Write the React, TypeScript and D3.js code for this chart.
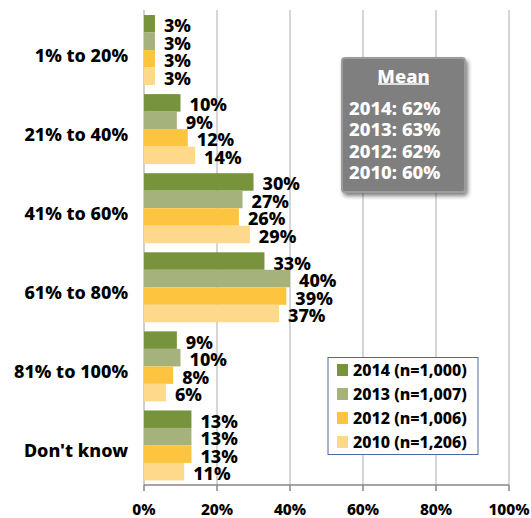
import React from "react";
import * as d3 from "d3";

// categories (top to bottom) and the four survey years
const categories = ["1% to 20%", "21% to 40%", "41% to 60%", "61% to 80%", "81% to 100%", "Don't know"];
const seriesNames = ["2014 (n=1,000)", "2013 (n=1,007)", "2012 (n=1,006)", "2010 (n=1,206)"];
const seriesColors = ["#77933C", "#A6B27B", "#FCC43F", "#FED98B"];

const values2014 = [3, 10, 30, 33, 9, 13];
const values2013 = [3, 9, 27, 40, 10, 13];
const values2012 = [3, 12, 26, 39, 8, 13];
const values2010 = [3, 14, 29, 37, 6, 11];
const allValues = [values2014, values2013, values2012, values2010];

const xTicks = [0, 20, 40, 60, 80, 100];

const meanYears = ["2014", "2013", "2012", "2010"];
const meanValues = [62, 63, 62, 60];

const W = 531, H = 518;
const font = "'Noto Sans', 'Open Sans', sans-serif";

export default function App() {
  const x = d3.scaleLinear().domain([0, 100]).range([144, 509]);
  const y = d3.scaleBand<string>().domain(categories).range([10.5, 485])
    .paddingInner(0.115).paddingOuter(0.0575);
  const y1 = d3.scaleBand<number>().domain(d3.range(seriesNames.length)).range([0, y.bandwidth()]);

  return (
    <svg width={W} height={H} style={{ position: "absolute", left: 0, top: 0, background: "#fff" }}
      fontFamily={font} fontWeight={800}>
      <defs>
        <filter id="shadow" x="-20%" y="-20%" width="140%" height="140%">
          <feGaussianBlur in="SourceAlpha" stdDeviation="2" />
          <feOffset dx="2" dy="3" result="b" />
          <feComponentTransfer><feFuncA type="linear" slope="0.5" /></feComponentTransfer>
          <feMerge><feMergeNode /><feMergeNode in="SourceGraphic" /></feMerge>
        </filter>
      </defs>

      {/* gridlines */}
      {xTicks.slice(1).map(t => (
        <line key={t} x1={x(t)} x2={x(t)} y1={10} y2={485} stroke="#C8C8C8" strokeWidth={1.5} />
      ))}
      <line x1={x(0)} x2={x(0)} y1={10} y2={485} stroke="#BFBFBF" strokeWidth={1.5} />

      {/* bars */}
      {categories.map((c, ci) => (
        <g key={c} transform={`translate(0,${y(c)})`}>
          {allValues.map((vals, si) => (
            <g key={si}>
              <rect x={x(0)} y={y1(si)} width={x(vals[ci]) - x(0)} height={y1.bandwidth()}
                fill={seriesColors[si]} />
              <text x={x(vals[ci]) + 9} y={(y1(si) as number) + y1.bandwidth() / 2 + 1.5}
                dominantBaseline="central" fontSize={18} fill="#000">{vals[ci]}%</text>
            </g>
          ))}
        </g>
      ))}

      {/* category labels */}
      {categories.map(c => (
        <text key={c} x={128} y={(y(c) as number) + y.bandwidth() / 2 + 5} textAnchor="end"
          dominantBaseline="central" fontSize={18} fill="#000">{c}</text>
      ))}

      {/* x axis */}
      <line x1={x(0)} x2={x(100)} y1={485} y2={485} stroke="#868686" strokeWidth={1.5} />
      {xTicks.map(t => (
        <g key={t}>
          <line x1={x(t)} x2={x(t)} y1={485} y2={491} stroke="#868686" strokeWidth={1.5} />
          <text x={x(t)} y={509} textAnchor="middle" dominantBaseline="central" fontSize={15.5}
            fill="#000">{t}%</text>
        </g>
      ))}

      {/* mean box */}
      <g filter="url(#shadow)">
        <rect x={342} y={58} width={123} height={134} rx={3} fill="#7F7F7F" stroke="#9C9C9C" strokeWidth={2} />
      </g>
      <text x={403.5} y={75} textAnchor="middle" dominantBaseline="central" fontSize={18.5} fill="#fff">Mean</text>
      <line x1={378} x2={429} y1={84} y2={84} stroke="#fff" strokeWidth={1.5} />
      {meanYears.map((yr, i) => (
        <text key={yr} x={349} y={107 + i * 21.5} dominantBaseline="central" fontSize={18.5} fill="#fff">
          {yr}: {meanValues[i]}%
        </text>
      ))}

      {/* legend */}
      <rect x={328} y={357.5} width={150} height={97} fill="#fff" stroke="#4A6A9A" strokeWidth={1} />
      {seriesNames.map((s, i) => (
        <g key={s} transform={`translate(337,${370 + i * 24})`}>
          <rect x={0} y={-6} width={11} height={12} fill={seriesColors[i]} />
          <text x={16} y={0} dominantBaseline="central" fontSize={16} fill="#000">{s}</text>
        </g>
      ))}
    </svg>
  );
}
